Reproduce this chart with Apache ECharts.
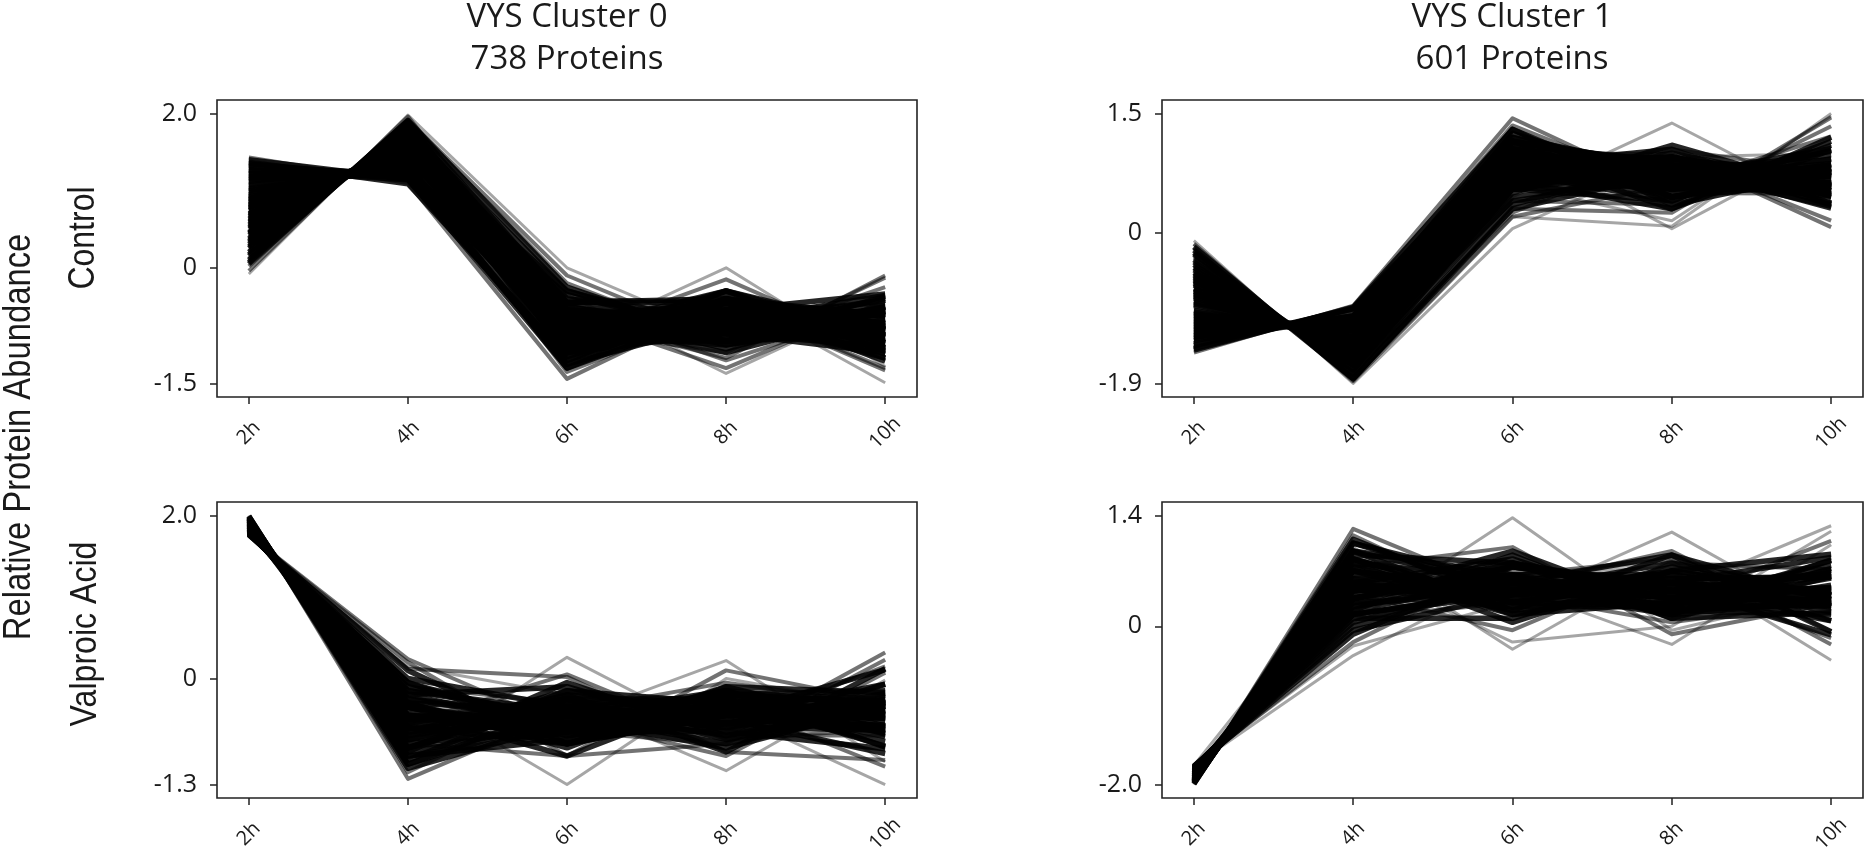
<!DOCTYPE html>
<html><head><meta charset="utf-8">
<script src="https://cdn.jsdelivr.net/npm/echarts@6/dist/echarts.min.js"></script>
<style>html,body{margin:0;padding:0;background:#fff}#c{width:1867px;height:863px}</style>
</head><body><div id="c"></div>
<script>
// ---------- data ----------
const hours = [2, 4, 6, 8, 10];
const hourLabels = ['2h', '4h', '6h', '8h', '10h'];
const clusterTitles = ['VYS Cluster 0', 'VYS Cluster 1'];
const proteinCounts = ['738 Proteins', '601 Proteins'];
const conditionNames = ['Control', 'Valproic Acid'];
const sharedYLabel = 'Relative Protein Abundance';

const ticksControl0 = [-1.5, 0, 2.0];
const ticksControl1 = [-1.9, 0, 1.5];
const ticksValproic0 = [-1.3, 0, 2.0];
const ticksValproic1 = [-2.0, 0, 1.4];

// each row: one protein profile at 2h, 4h, 6h, 8h, 10h
const control0 = [
  [1.43, 1.10, -1.44, -0.45, -0.64], [1.40, 1.15, -1.30, -0.55, -0.66], [1.37, 1.09, -1.15, -0.40, -0.95],
  [1.33, 1.19, -1.25, -0.70, -0.54], [1.30, 1.22, -0.95, -0.62, -0.90], [1.27, 1.14, -1.10, -0.85, -0.51],
  [1.24, 1.25, -0.70, -0.45, -1.30], [1.20, 1.20, -1.20, -0.50, -0.73], [1.16, 1.21, -0.85, -1.00, -0.57],
  [1.12, 1.32, -1.05, -0.60, -0.75], [1.08, 1.28, -0.75, -0.80, -0.83], [1.04, 1.37, -1.35, -0.55, -0.47],
  [1.00, 1.31, -0.90, -0.70, -0.75], [0.96, 1.41, -0.60, -1.30, -0.43], [0.92, 1.37, -1.00, -0.35, -0.97],
  [0.88, 1.46, -0.80, -0.90, -0.60], [0.84, 1.40, -0.45, -0.75, -1.08], [0.80, 1.51, -1.10, -0.30, -0.87],
  [0.76, 1.49, -0.70, -0.65, -0.90], [0.72, 1.51, -0.95, 0.00, -1.28], [0.68, 1.54, -0.55, -1.00, -0.67],
  [0.64, 1.60, -0.85, -0.75, -0.60], [0.60, 1.58, -0.40, -0.45, -1.33], [0.56, 1.61, -0.95, -0.50, -0.72],
  [0.52, 1.63, -0.70, -0.95, -0.50], [0.48, 1.65, -0.35, -1.37, -0.41], [0.44, 1.68, -0.75, -0.60, -0.77],
  [0.40, 1.70, -0.90, -0.15, -1.05], [0.36, 1.69, -0.50, -0.85, -0.73], [0.32, 1.75, -0.65, -0.45, -0.97],
  [0.27, 1.78, -0.30, -0.90, -0.85], [0.22, 1.81, -0.80, -1.10, -0.13], [0.17, 1.84, -0.55, -0.70, -0.76],
  [0.12, 1.90, -0.20, -1.00, -0.79], [0.07, 1.90, -0.45, -0.40, -1.12], [0.02, 1.92, -0.10, -0.95, -0.89],
  [-0.04, 1.96, -0.65, -1.17, -0.10], [-0.08, 1.98, 0.00, -0.88, -1.02], [1.10, 1.29, -0.55, -0.35, -1.49],
  [0.70, 1.52, -1.20, -0.40, -0.62], [0.50, 1.64, -0.60, -0.55, -0.99], [0.90, 1.41, -0.65, -1.10, -0.56],
  [0.30, 1.76, -1.00, -0.70, -0.36], [0.58, 1.60, -0.80, -0.30, -1.08],
  [1.35, 1.16, -0.85, -0.75, -0.87], [1.18, 1.27, -0.65, -0.95, -0.85], [1.02, 1.31, -1.00, -0.80, -0.53],
  [0.86, 1.46, -0.70, -0.45, -1.17], [0.74, 1.47, -0.60, -0.85, -0.76], [0.62, 1.59, -1.05, -0.65, -0.49],
  [0.46, 1.64, -0.85, -0.45, -0.80], [0.34, 1.75, -0.40, -0.65, -1.04], [0.20, 1.80, -0.75, -0.85, -0.40],
  [0.10, 1.86, -0.60, -0.55, -0.81], [1.22, 1.24, -1.00, -0.75, -0.71], [0.98, 1.34, -0.55, -0.60, -1.17],
  [0.78, 1.50, -0.80, -0.60, -0.88], [0.54, 1.60, -0.50, -0.80, -0.84], [0.38, 1.72, -1.05, -0.45, -0.60],
  [1.14, 1.25, -0.90, -0.45, -1.04], [0.94, 1.38, -0.35, -0.85, -1.10], [0.66, 1.56, -1.10, -0.70, -0.42],
  [0.42, 1.69, -0.55, -1.05, -0.51], [0.25, 1.79, -1.15, -0.55, -0.34], [0.82, 1.45, -0.95, -0.95, -0.37],
  [0.05, 1.91, -0.25, -0.95, -0.76], [0.15, 1.85, -0.90, -0.30, -0.80], [0.28, 1.77, -0.85, -0.95, -0.25],
  [0.60, 1.57, -0.30, -0.85, -1.02], [1.26, 1.18, -1.25, -0.40, -0.79], [0.70, 1.53, -0.50, -1.20, -0.53],
  [0.45, 1.66, -0.45, -0.45, -1.21], [1.06, 1.30, -1.30, -0.45, -0.61]
];
const control1 = [
  [-0.10, -1.90, 0.05, 0.95, 1.00], [-0.14, -1.87, 0.20, 0.60, 1.21], [-0.18, -1.84, 0.35, 0.92, 0.75],
  [-0.22, -1.84, 0.30, 0.75, 0.98], [-0.27, -1.78, 0.55, 0.40, 1.10], [-0.32, -1.74, 0.25, 1.05, 0.76],
  [-0.37, -1.67, 0.60, 0.85, 0.63], [-0.42, -1.67, 0.40, 0.35, 1.34], [-0.47, -1.64, 0.70, 0.55, 0.86],
  [-0.52, -1.61, 0.50, 1.10, 0.53], [-0.56, -1.58, 0.85, 0.70, 0.59], [-0.60, -1.55, 0.65, 0.30, 1.20],
  [-0.64, -1.56, 0.75, 0.95, 0.46], [-0.68, -1.49, 0.45, 1.38, 0.34], [-0.72, -1.47, 0.90, 0.50, 0.79],
  [-0.76, -1.44, 0.70, 0.80, 0.70], [-0.80, -1.41, 1.00, 0.65, 0.56], [-0.84, -1.38, 0.60, 0.15, 1.47],
  [-0.88, -1.32, 0.95, 0.85, 0.44], [-0.92, -1.33, 0.80, 0.60, 0.85], [-0.96, -1.30, 1.10, 0.05, 1.11],
  [-1.00, -1.27, 0.85, 1.05, 0.37], [-1.04, -1.24, 1.05, 0.70, 0.53], [-1.08, -1.22, 0.75, 0.40, 1.15],
  [-1.12, -1.23, 1.15, 0.85, 0.31], [-1.16, -1.16, 0.95, 0.55, 0.82], [-1.20, -1.13, 1.20, 0.80, 0.33],
  [-1.24, -1.10, 1.00, 0.30, 1.04], [-1.28, -1.08, 1.25, 0.65, 0.46], [-1.32, -1.05, 1.10, 0.90, 0.37],
  [-1.36, -1.06, 1.30, 0.45, 0.63], [-1.40, -0.99, 1.20, 0.60, 0.59], [-1.44, -0.97, 1.35, 0.55, 0.51],
  [-1.48, -0.94, 1.30, 0.35, 0.77], [-1.51, -0.92, 1.44, 0.50, 0.49], [-0.30, -1.76, 1.00, 0.99, 0.07],
  [-0.15, -1.86, 0.20, 0.08, 1.50], [-0.20, -1.83, 0.30, 0.25, 1.45], [-0.50, -1.62, 0.80, 0.75, 0.57],
  [-0.90, -1.35, 0.65, 1.00, 0.60], [-1.10, -1.20, 0.90, 0.65, 0.75], [-0.70, -1.48, 0.55, 0.60, 1.03],
  [-1.30, -1.06, 0.85, 0.95, 0.56], [-0.62, -1.54, 0.40, 0.70, 1.06], [-0.45, -1.65, 1.00, 0.95, 0.15],
  [-0.25, -1.77, 0.45, 0.70, 0.87], [-0.40, -1.70, 0.65, 0.60, 0.85], [-0.58, -1.58, 0.60, 0.95, 0.61],
  [-0.74, -1.43, 0.85, 0.70, 0.62], [-0.86, -1.37, 0.75, 0.55, 0.93], [-0.98, -1.31, 0.95, 0.75, 0.59],
  [-1.06, -1.21, 0.70, 0.85, 0.72], [-1.14, -1.19, 1.05, 0.60, 0.68], [-1.22, -1.09, 0.90, 0.70, 0.71],
  [-1.34, -1.05, 1.15, 0.75, 0.49], [-1.42, -0.96, 1.05, 0.85, 0.48], [-0.34, -1.72, 0.55, 0.80, 0.71],
  [-0.82, -1.40, 0.55, 0.90, 0.77], [-1.18, -1.15, 0.80, 0.95, 0.58], [-0.66, -1.50, 0.95, 0.45, 0.76],
  [-0.54, -1.60, 1.05, 0.55, 0.54], [-1.02, -1.25, 0.60, 0.75, 0.92], [-1.26, -1.12, 1.10, 0.55, 0.73],
  [-0.78, -1.42, 0.90, 0.95, 0.35], [-1.46, -0.95, 1.15, 0.45, 0.81], [-0.44, -1.66, 0.85, 0.45, 0.80]
];
const valproic0 = [
  [2.00, -1.23, -0.40, -0.05, -0.32], [1.99, -1.10, -0.55, -0.45, 0.11], [1.98, -1.00, -0.20, -0.90, 0.12],
  [1.97, -0.95, -0.75, -0.10, -0.17], [1.96, -0.85, -0.30, -0.55, -0.26], [1.95, -0.90, -0.05, -0.70, -0.30],
  [1.94, -0.80, -0.95, 0.10, -0.29], [1.93, -0.75, -0.45, -0.35, -0.38], [1.92, -0.70, -0.65, -0.80, 0.23],
  [1.91, -0.65, -0.20, -0.40, -0.66], [1.90, -0.60, -0.80, -0.20, -0.30], [1.89, -0.62, -0.35, -0.60, -0.32],
  [1.88, -0.50, -0.55, -0.15, -0.68], [1.87, -0.55, 0.05, -0.75, -0.62], [1.86, -0.45, -0.70, -0.45, -0.26],
  [1.85, -0.40, -0.30, -1.13, -0.02], [1.84, -0.35, -0.60, -0.30, -0.59], [1.83, -0.30, -0.85, -0.10, -0.58],
  [1.82, -0.25, -0.45, -0.55, -0.57], [1.81, -0.20, -0.10, -0.65, -0.86], [1.80, -0.15, -1.30, 0.00, -0.35],
  [1.79, -0.10, -0.50, -0.85, -0.34], [1.78, -0.05, -0.70, -0.40, -0.63], [1.90, -0.60, -0.50, 0.22, -1.02],
  [1.77, 0.00, -0.35, -0.50, -0.92], [1.76, 0.10, -0.80, -0.45, -0.61], [1.76, 0.24, -0.60, -0.70, -0.70],
  [1.75, 0.15, -0.20, -0.40, -1.30], [1.95, -1.00, 0.26, -0.75, -0.46], [1.88, -0.85, -0.60, -0.75, 0.32],
  [1.84, -0.40, -0.95, -0.20, -0.29], [1.80, -0.30, -0.40, -0.70, -0.40], [1.86, -0.70, -0.15, -0.30, -0.71],
  [1.93, -0.55, -0.50, -0.95, 0.07], [1.82, -0.45, -0.65, -0.65, -0.07], [1.79, -0.20, -0.60, -0.15, -0.84],
  [1.91, -0.75, -0.30, -0.25, -0.61], [1.85, -0.50, -0.45, -0.45, -0.45], [1.97, -1.15, -0.20, -0.40, -0.22],
  [1.78, -0.10, -0.30, -0.30, -1.08], [1.83, -0.35, -0.75, -0.55, -0.18], [1.87, -0.60, -0.55, -0.20, -0.52],
  [1.76, 0.20, -0.95, -0.80, -0.21], [1.76, 0.12, 0.02, -0.90, -1.00],
  [1.99, -1.05, -0.35, -0.25, -0.34], [1.96, -0.90, -0.55, -0.30, -0.21], [1.94, -0.85, -0.25, -0.55, -0.29],
  [1.92, -0.80, -0.60, -0.45, -0.07], [1.90, -0.70, -0.40, -0.50, -0.30], [1.88, -0.65, -0.55, -0.35, -0.33],
  [1.86, -0.55, -0.35, -0.55, -0.41], [1.84, -0.45, -0.50, -0.40, -0.49], [1.82, -0.35, -0.65, -0.35, -0.47],
  [1.80, -0.25, -0.55, -0.55, -0.45], [1.78, -0.15, -0.40, -0.60, -0.63], [1.77, -0.05, -0.60, -0.35, -0.77],
  [1.95, -0.95, -0.65, -0.20, -0.15], [1.89, -0.55, -0.25, -0.75, -0.34], [1.81, -0.30, -0.80, -0.45, -0.26],
  [1.93, -0.85, -0.15, -0.45, -0.48], [1.85, -0.35, -0.80, -0.30, -0.40], [1.79, -0.15, -0.45, -0.80, -0.39],
  [1.90, -0.75, -0.70, -0.60, 0.15], [1.83, -0.50, -0.25, -0.25, -0.83], [1.97, -1.05, -0.45, -0.15, -0.32]
];
const valproic1 = [
  [-2.00, 1.23, 0.40, 0.05, 0.32], [-1.99, 1.05, 0.55, 0.50, -0.11], [-1.98, 0.95, 0.20, 0.90, -0.07],
  [-1.97, 0.90, 0.80, 0.10, 0.17], [-1.96, 0.85, 0.30, 0.55, 0.26], [-1.95, 0.80, 0.05, 0.70, 0.40],
  [-1.94, 0.75, 1.00, -0.10, 0.29], [-1.93, 0.70, 0.45, 0.40, 0.38], [-1.92, 0.65, 0.65, 0.85, -0.23],
  [-1.91, 0.60, 0.20, 0.45, 0.66], [-1.90, 0.55, 0.85, 0.20, 0.30], [-1.89, 0.50, 0.35, 0.65, 0.39],
  [-1.88, 0.45, 0.55, 0.15, 0.73], [-1.87, 0.40, -0.05, 0.80, 0.72], [-1.86, 0.35, 0.75, 0.45, 0.31],
  [-1.85, 0.30, 0.30, 1.19, 0.06], [-1.84, 0.25, 0.60, 0.35, 0.64], [-1.83, 0.20, 0.90, 0.10, 0.63],
  [-1.82, 0.15, 0.45, 0.60, 0.62], [-1.81, 0.10, 0.10, 0.70, 0.91], [-1.80, 0.05, 1.37, -0.05, 0.43],
  [-1.79, 0.00, 0.55, 0.90, 0.34], [-1.78, -0.10, 0.75, 0.45, 0.68], [-1.90, 0.60, 0.50, -0.23, 1.03],
  [-1.77, -0.05, 0.40, 0.55, 0.87], [-1.76, -0.20, 0.80, 0.50, 0.66], [-1.76, -0.37, 0.65, 0.75, 0.73],
  [-1.75, -0.25, 0.30, 0.43, 1.27], [-1.95, 1.00, -0.29, 0.85, 0.39], [-1.88, 0.85, 0.65, 0.81, -0.43],
  [-1.84, 0.40, 0.95, 0.20, 0.29], [-1.80, 0.30, 0.40, 0.70, 0.40], [-1.86, 0.70, 0.15, 0.30, 0.71],
  [-1.93, 0.55, 0.50, 0.95, -0.07], [-1.82, 0.45, 0.65, 0.65, 0.07], [-1.79, 0.20, 0.60, 0.15, 0.84],
  [-1.91, 0.75, 0.30, 0.25, 0.61], [-1.85, 0.50, 0.45, 0.45, 0.45], [-1.97, 1.15, 0.20, 0.40, 0.22],
  [-1.78, 0.10, 0.30, 0.30, 1.08], [-1.83, 0.35, 0.75, 0.55, 0.18], [-1.87, 0.60, 0.55, 0.20, 0.52],
  [-1.76, 0.76, -0.20, 0.00, 1.20],
  [-1.99, 1.10, 0.30, 0.30, 0.29], [-1.96, 0.95, 0.50, 0.25, 0.26], [-1.94, 0.85, 0.30, 0.55, 0.24],
  [-1.92, 0.80, 0.60, 0.45, 0.07], [-1.90, 0.70, 0.40, 0.50, 0.30], [-1.88, 0.65, 0.55, 0.35, 0.33],
  [-1.86, 0.55, 0.35, 0.55, 0.41], [-1.84, 0.45, 0.50, 0.40, 0.49], [-1.82, 0.35, 0.65, 0.35, 0.47],
  [-1.80, 0.25, 0.55, 0.55, 0.45], [-1.78, 0.15, 0.40, 0.60, 0.63], [-1.77, 0.05, 0.60, 0.35, 0.77],
  [-1.95, 0.95, 0.65, 0.20, 0.15], [-1.89, 0.55, 0.25, 0.75, 0.34], [-1.81, 0.30, 0.80, 0.45, 0.26],
  [-1.93, 0.85, 0.15, 0.45, 0.48], [-1.85, 0.35, 0.80, 0.30, 0.40], [-1.79, 0.15, 0.45, 0.80, 0.39],
  [-1.90, 0.75, 0.70, 0.60, -0.15], [-1.83, 0.50, 0.25, 0.25, 0.83], [-1.97, 1.05, 0.45, 0.15, 0.32]
];

// ---------- layout / style ----------
const panels = [
  { rows: control0,  ticks: ticksControl0,  fringeAt: [2, 3, 4],    grid: { left: 217,  top: 100, width: 700, height: 297 } },
  { rows: control1,  ticks: ticksControl1,  fringeAt: [2, 3, 4],    grid: { left: 1162, top: 100, width: 701, height: 297 } },
  { rows: valproic0, ticks: ticksValproic0, fringeAt: [1, 2, 3, 4], grid: { left: 217,  top: 502, width: 700, height: 296 } },
  { rows: valproic1, ticks: ticksValproic1, fringeAt: [1, 2, 3, 4], grid: { left: 1162, top: 502, width: 701, height: 296 } }
];

const ctx = document.createElement('canvas').getContext('2d');
function fitSize(text, family, target) {
  ctx.font = '100px ' + family;
  return 100 * target / ctx.measureText(text).width;
}
const hFont = '"Open Sans", "Liberation Sans", sans-serif';
const rotFamily = '"Liberation Sans", Arial, sans-serif';
const ink = '#1a1a1a';

// lines far from the bulk of their cluster are drawn lighter (like the sparse fringe of the original)
function lineStyles(rows, idx) {
  const n = rows.length;
  const m = idx.map(i => rows.reduce((a, r) => a + r[i], 0) / n);
  const s = idx.map((i, j) => Math.sqrt(rows.reduce((a, r) => a + (r[i] - m[j]) ** 2, 0) / n));
  return rows.map(r => {
    const z = Math.max(...idx.map((i, j) => Math.abs(r[i] - m[j]) / s[j]));
    if (z < 1.75) return { width: 5.5, opacity: 0.85 };
    if (z < 2.4) return { width: 4, opacity: 0.55 };
    return { width: 3, opacity: 0.35 };
  });
}

const option = {
  backgroundColor: '#fff',
  animation: false,
  grid: [], xAxis: [], yAxis: [], series: [], graphic: []
};

panels.forEach((p, k) => {
  const tmin = p.ticks[0], tmax = p.ticks[p.ticks.length - 1], pad = (tmax - tmin) * 0.05;
  option.grid.push(Object.assign({ show: true, borderColor: '#222', borderWidth: 1.6, backgroundColor: 'transparent', containLabel: false }, p.grid));
  option.xAxis.push({
    type: 'value', gridIndex: k, min: 1.6, max: 10.4,
    axisLine: { show: false, onZero: false }, splitLine: { show: false },
    axisTick: { show: true, customValues: hours, length: 7, lineStyle: { color: '#222', width: 1.5 } },
    axisLabel: {
      customValues: hours, formatter: v => hourLabels[hours.indexOf(v)],
      rotate: 45, align: 'center', verticalAlign: 'middle', margin: 36,
      fontSize: 20, fontFamily: hFont, color: ink
    }
  });
  option.yAxis.push({
    type: 'value', gridIndex: k, min: tmin - pad, max: tmax + pad,
    axisLine: { show: false, onZero: false }, splitLine: { show: false },
    axisTick: { show: true, customValues: p.ticks, length: 7, lineStyle: { color: '#222', width: 1.5 } },
    axisLabel: {
      customValues: p.ticks, formatter: v => (v === 0 ? '0' : v.toFixed(1)),
      margin: 20, fontSize: 25, fontFamily: hFont, color: ink
    }
  });
  const styles = lineStyles(p.rows, p.fringeAt);
  p.rows.forEach((row, r) => {
    option.series.push({
      type: 'line', xAxisIndex: k, yAxisIndex: k, silent: true, symbol: 'none',
      emphasis: { disabled: true },
      data: row.map((v, i) => [hours[i], v]),
      lineStyle: { color: '#000', width: styles[r].width, opacity: styles[r].opacity, join: 'round', cap: 'butt' }
    });
  });
});

// titles
[567, 1512].forEach((cx, k) => {
  option.graphic.push({ type: 'text', x: cx, y: 18, silent: true,
    style: { text: clusterTitles[k], font: '33px ' + hFont, fill: ink, textAlign: 'center', textVerticalAlign: 'middle', align: 'center', verticalAlign: 'middle' } });
  option.graphic.push({ type: 'text', x: cx, y: 60, silent: true,
    style: { text: proteinCounts[k], font: '33px ' + hFont, fill: ink, textAlign: 'center', textVerticalAlign: 'middle', align: 'center', verticalAlign: 'middle' } });
});
// rotated labels (slightly thickened to match the condensed look of the original)
const rotLabels = [
  { text: sharedYLabel, x: 19, y: 437, len: 407 },
  { text: conditionNames[0], x: 84, y: 238, len: 103 },
  { text: conditionNames[1], x: 86, y: 634, len: 185 }
];
rotLabels.forEach(r => {
  const fs = fitSize(r.text, rotFamily, r.len);
  option.graphic.push({ type: 'text', x: r.x, y: r.y, rotation: Math.PI / 2, scaleY: 1.18, silent: true,
    style: { text: r.text, font: fs.toFixed(1) + 'px ' + rotFamily, fill: ink, textAlign: 'center', textVerticalAlign: 'middle', align: 'center', verticalAlign: 'middle' } });
});

const chart = echarts.init(document.getElementById('c'), null, { renderer: 'canvas' });
chart.setOption(option);
</script>
</body></html>
